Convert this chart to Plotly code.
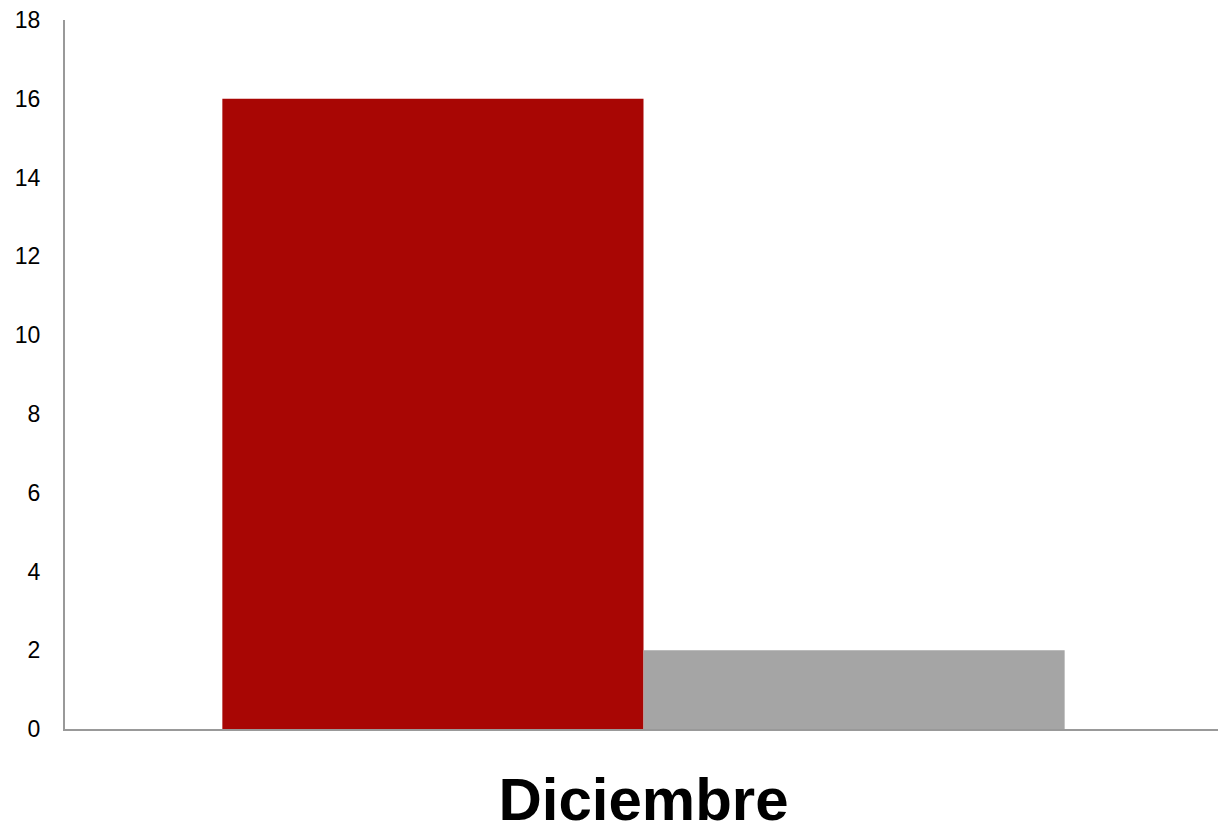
import plotly.graph_objects as go

months = ["Diciembre"]
serie_a = [16]
serie_b = [2]

fig = go.Figure()
fig.add_trace(go.Bar(x=months, y=serie_a, marker_color="#A80604", marker_line_width=0, name="A"))
fig.add_trace(go.Bar(x=months, y=serie_b, marker_color="#A5A5A5", marker_line_width=0, name="B"))

# page body adds an 8px margin, so the figure is kept a bit smaller than the window
fig.update_layout(
    width=1214, height=818,
    margin=dict(l=57, r=0, t=12, b=97),
    barmode="group", bargap=0.272, bargroupgap=0,
    showlegend=False,
    plot_bgcolor="white", paper_bgcolor="white",
)
fig.update_yaxes(
    range=[0, 18], dtick=2, showgrid=False, zeroline=False,
    showline=True, linecolor="#999999", linewidth=2,
    ticks="", ticklabelstandoff=18, automargin=False,
    ticklabeloverflow="allow",
    tickfont=dict(family="Liberation Sans", size=23, color="black"),
)
fig.update_xaxes(
    showgrid=False, showline=True, linecolor="#999999", linewidth=2,
    ticks="", ticklabelstandoff=17, automargin=False,
    ticklabeloverflow="allow",
    tickfont=dict(family="Liberation Sans", size=60, color="black", weight="bold"),
)

fig.write_html("out.html")
